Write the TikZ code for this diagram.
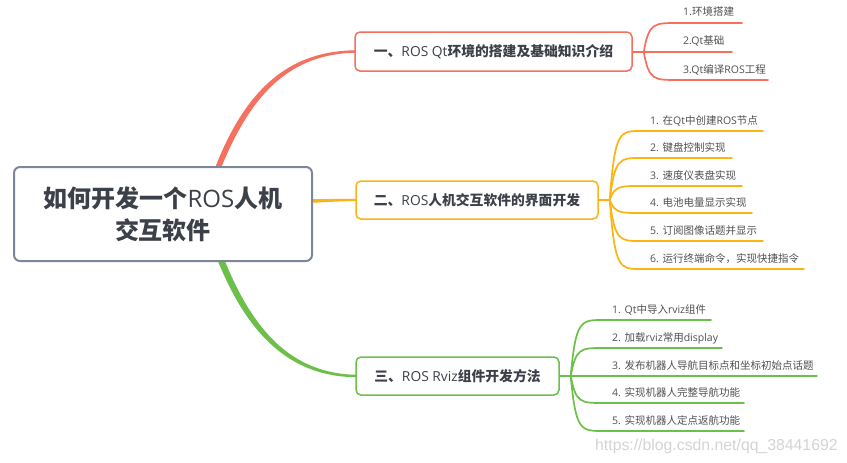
\documentclass[tikz,border=0pt]{standalone}
\usepackage{fontspec}
\setmainfont{Noto Sans CJK SC}
\newfontfamily\enf{Open Sans}
\newfontfamily\wmf{Liberation Sans}
\usetikzlibrary{calc}
\pgfdeclarelayer{bglayer}
\pgfsetlayers{bglayer,main}
\newcommand\ltn[1]{{\enf\mdseries #1}}
\definecolor{cred}{RGB}{245,112,94}
\definecolor{corg}{RGB}{251,180,18}
\definecolor{cgrn}{RGB}{108,192,74}
\definecolor{cgry}{RGB}{126,135,154}
\definecolor{ctxt}{RGB}{60,64,72}
\definecolor{ckid}{RGB}{80,80,80}
\definecolor{cwm}{RGB}{212,212,212}
\tikzset{
  kidtext/.style={inner sep=0pt, font=\fontsize{10.5}{12}\selectfont, text=ckid},
  kidline/.style={line width=1.7pt, line cap=round},
  topic/.style={draw, rounded corners=5pt, line width=1.5pt, fill=white, inner sep=0pt,
    text=ctxt, font=\fontsize{13.8}{16}\selectfont\bfseries, text height=12.1pt, text depth=1.7pt},
  central/.style={draw=cgry, rounded corners=6pt, line width=2pt, fill=white, inner sep=0pt,
    text=ctxt, font=\fontsize{24}{32}\selectfont\bfseries, align=center,
    minimum width=298pt, minimum height=94pt},
  wm/.style={inner sep=0pt, text=cwm, font=\wmf\fontsize{15.8}{18}\selectfont}
}
% #1 fork, #2 colour, #3 start x, #4 line y, #5 end x, #6 text x, #7 name, #8 text
\newcommand\mmkid[8]{%
  \coordinate (#7s) at (#3,#4);
  \coordinate (#7e) at (#5,#4);
  \node[kidtext, anchor=base west] (#7) at (#6,#4-7) {#8};
  \draw[kidline, #2] (#1) .. controls ($(#1 |- #7s)+(5,0)$) and ($(#1 |- #7s)+(10,0)$) .. (#7s) -- (#7e);
}
\begin{document}
\begin{tikzpicture}[x=1pt,y=-1pt]
\begin{pgfonlayer}{bglayer}
\fill[white] (0,0) rectangle (847,463);
\end{pgfonlayer}
\useasboundingbox (0,0) rectangle (847,463);

% central topic and main topics
\node[central] (c) at (163,214) {如何开发一个\ltn{ROS}人机\\交互软件};
\node[topic, draw=cred, minimum width=277pt, minimum height=39pt] (b1) at (493.5,51.5)
  {一、\ltn{ROS Qt}环境的搭建及基础知识介绍};
\node[topic, draw=corg, minimum width=242pt, minimum height=38pt] (b2) at (477,200)
  {二、\ltn{ROS}人机交互软件的界面开发};
\node[topic, draw=cgrn, minimum width=203pt, minimum height=38pt] (b3) at (457.5,376)
  {三、\ltn{ROS Rviz}组件开发方法};

% main connectors (tapered), behind the boxes
\begin{pgfonlayer}{bglayer}
\fill[cred] ($(c.north)+(52,2)$) .. controls (246,88) and (290,50.5) .. ($(b1.west)+(2,-1.2)$)
  -- ($(b1.west)+(2,1.2)$) .. controls (291,53.8) and (252,92) .. ($(c.north)+(58,2)$) -- cycle;
\fill[corg] ($(c.east)+(-2,-14.8)$) .. controls (330,199) and (340,198.9) .. ($(b2.west)+(2,-1.1)$)
  -- ($(b2.west)+(2,1.1)$) .. controls (340,201.1) and (330,202) .. ($(c.east)+(-2,-11.2)$) -- cycle;
\fill[cgrn] ($(c.south)+(54.5,-2)$) .. controls (247,333) and (289,377.2) .. ($(b3.west)+(2,1.2)$)
  -- ($(b3.west)+(2,-1.2)$) .. controls (290,374) and (252,328) .. ($(c.south)+(61.5,-2)$) -- cycle;
\end{pgfonlayer}

% forks
\coordinate (f1) at ($(b1.east)+(11,0.5)$);
\coordinate (f2) at ($(b2.east)+(11,0)$);
\coordinate (f3) at ($(b3.east)+(11,0)$);
\draw[kidline, cred] ($(b1.east)+(0,0.5)$) -- (f1);
\draw[kidline, corg] (b2.east) -- (f2);
\draw[kidline, cgrn] (b3.east) -- (f3);

% branch 1
\mmkid{f1}{cred}{677}{23}{742}{683}{k11}{\ltn{1.}环境搭建}
\mmkid{f1}{cred}{677}{52}{732}{683}{k12}{\ltn{2.Qt}基础}
\mmkid{f1}{cred}{677}{80}{768}{683}{k13}{\ltn{3.Qt}编译\ltn{ROS}工程}

% branch 2
\mmkid{f2}{corg}{640}{131}{763}{650}{k21}{\ltn{1. }在\ltn{Qt}中创建\ltn{ROS}节点}
\mmkid{f2}{corg}{640}{158}{732}{650}{k22}{\ltn{2. }键盘控制实现}
\mmkid{f2}{corg}{640}{186}{742}{650}{k23}{\ltn{3. }速度仪表盘实现}
\mmkid{f2}{corg}{640}{213}{752}{650}{k24}{\ltn{4. }电池电量显示实现}
\mmkid{f2}{corg}{640}{241}{763}{650}{k25}{\ltn{5. }订阅图像话题并显示}
\mmkid{f2}{corg}{640}{269}{804}{650}{k26}{\ltn{6. }运行终端命令，实现快捷指令}

% branch 3
\mmkid{f3}{cgrn}{603}{320}{711}{612}{k31}{\ltn{1. Qt}中导入\ltn{rviz}组件}
\mmkid{f3}{cgrn}{603}{348}{722}{612}{k32}{\ltn{2. }加载\ltn{rviz}常用\ltn{display}}
\mmkid{f3}{cgrn}{603}{376}{817}{612}{k33}{\ltn{3. }发布机器人导航目标点和坐标初始点话题}
\mmkid{f3}{cgrn}{603}{403}{744}{612}{k34}{\ltn{4. }实现机器人完整导航功能}
\mmkid{f3}{cgrn}{603}{431}{744}{612}{k35}{\ltn{5. }实现机器人定点返航功能}

% watermark
\node[wm, anchor=base west] (wmk) at (595,450.7) {https://blog.csdn.net/qq\_38441692};
\end{tikzpicture}
\end{document}
